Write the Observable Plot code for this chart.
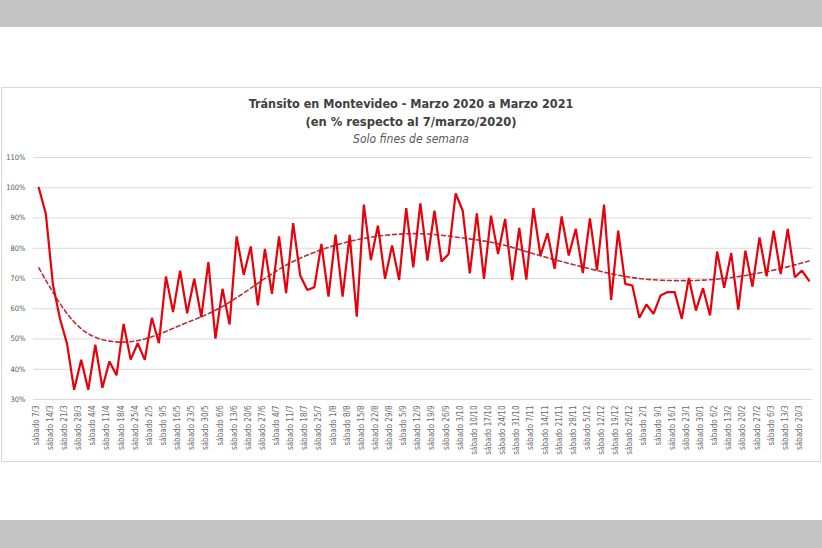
<!DOCTYPE html>
<html><head><meta charset="utf-8">
<script src="https://cdn.jsdelivr.net/npm/d3@7"></script>
<script src="https://cdn.jsdelivr.net/npm/@observablehq/plot@0.6"></script>
<style>
body{margin:0;background:#fff;font-family:"Liberation Sans Narrow","DejaVu Sans Condensed",Arial,sans-serif;}
#page{position:relative;width:822px;height:548px;overflow:hidden;background:#fff}
.band{position:absolute;left:0;width:822px;background:#c4c4c4}
#frame{position:absolute;left:1px;top:87px;width:818px;height:373px;border:1px solid #d9d9d9;}
.t{position:absolute;left:0;width:822px;text-align:center;color:#404040;white-space:nowrap}
#chart{position:absolute;left:0;top:150px}
</style></head><body>
<div id="page">
 <div class="band" style="top:0;height:27px"></div>
 <div class="band" style="top:520px;height:28px"></div>
 <div id="frame"></div>
 <div class="t" style="top:96px;font-weight:bold;font-size:12.5px">Tránsito en Montevideo - Marzo 2020 a Marzo 2021</div>
 <div class="t" style="top:114px;font-weight:bold;font-size:12.8px">(en % respecto al 7/marzo/2020)</div>
 <div class="t" style="top:132px;font-style:italic;font-size:12px;color:#595959">Solo fines de semana</div>
 <div id="chart"></div>
</div>
<script>
const labels = ["sábado 7/3","sábado 14/3","sábado 21/3","sábado 28/3","sábado 4/4","sábado 11/4","sábado 18/4","sábado 25/4","sábado 2/5","sábado 9/5","sábado 16/5","sábado 23/5","sábado 30/5","sábado 6/6","sábado 13/6","sábado 20/6","sábado 27/6","sábado 4/7","sábado 11/7","sábado 18/7","sábado 25/7","sábado 1/8","sábado 8/8","sábado 15/8","sábado 22/8","sábado 29/8","sábado 5/9","sábado 12/9","sábado 19/9","sábado 26/9","sábado 3/10","sábado 10/10","sábado 17/10","sábado 24/10","sábado 31/10","sábado 7/11","sábado 14/11","sábado 21/11","sábado 28/11","sábado 5/12","sábado 12/12","sábado 19/12","sábado 26/12","sábado 2/1","sábado 9/1","sábado 16/1","sábado 23/1","sábado 30/1","sábado 6/2","sábado 13/2","sábado 20/2","sábado 27/2","sábado 6/3","sábado 13/3","sábado 20/3"];
const values = [
 100, 91.3, 68, 56.7, 48.4, 33.2, 43.1, 33.2, 48.1, 33.9, 42.6, 38.0, 55.0, 43.2, 48.6, 43.1, 57.0, 48.6, 70.7, 58.9, 72.6, 58.5,
 69.9, 57.2, 75.4, 50.1, 66.6, 54.8, 83.9, 71.2, 80.6, 61.1, 79.8, 64.9, 83.9, 65.2, 88.3, 71.0, 66.2, 67.1, 81.4, 64.0, 84.5, 64.0,
 84.4, 57.4, 94.4, 76.1, 87.5, 69.9, 80.9, 69.5, 93.3, 73.7, 94.8, 75.9, 92.4, 75.6, 78.1, 98.1, 92.4, 71.7, 91.5, 69.9, 90.8, 78.1,
 89.7, 69.5, 86.7, 69.6, 93.3, 77.6, 85.0, 73.2, 90.5, 77.6, 86.4, 71.8, 89.9, 72.8, 94.4, 62.9, 85.8, 68.2, 67.7, 57.0, 61.4, 58.3,
 64.4, 65.5, 65.5, 56.7, 70.2, 59.4, 66.8, 57.8, 78.9, 66.9, 78.4, 59.7, 79.2, 67.3, 83.6, 70.7, 85.8, 71.5, 86.4, 70.4, 72.6, 69.3
];
const trendIdx = [0,5,10,15,20,25,30,35,40,45,50,55,60,65,70,75,80,85,90,95,100,105,109];
const trendVals = [73.5,55.6,49.3,50.0,54.5,59.5,66.8,74.4,79.5,82.8,84.5,84.7,83.4,81.5,78.2,75.0,72.1,70.0,69.3,69.6,71.0,73.3,75.8];
const yTicks = [30,40,50,60,70,80,90,100,110];

const series = values.map((v,i)=>({i, v}));
const trend = trendIdx.map((i,k)=>({i, v: trendVals[k]}));
const ticks = labels.map((l,k)=>({i: 2*k, l}));
const font = '"Liberation Sans Narrow","DejaVu Sans Condensed",Arial,sans-serif';

const chart = Plot.plot({
  width: 822, height: 312,
  marginLeft: 33, marginRight: 10, marginTop: 7, marginBottom: 63,
  x: {type: "linear", domain: [-0.75, 109.5], axis: null},
  y: {domain: [30, 110], axis: null},
  style: {fontFamily: font, background: "transparent"},
  marks: [
    Plot.ruleY(yTicks, {stroke: "#d9d9d9", strokeWidth: 1}),
    Plot.text(yTicks, {y: d=>d, text: d=>d+"%", frameAnchor: "left", textAnchor: "end", dx: -8, fontSize: 7.5, fill: "#595959"}),
    Plot.text(ticks, {x: "i", text: "l", frameAnchor: "bottom", rotate: -90, textAnchor: "end", dy: 6, fontSize: 8, fill: "#6a6a6a"}),
    Plot.line(trend, {x: "i", y: "v", curve: "natural", stroke: "#b5303a", strokeWidth: 1.6, strokeDasharray: "4,3"}),
    Plot.line(series, {x: "i", y: "v", stroke: "#e8000b", strokeWidth: 2.2, strokeLinejoin: "miter"})
  ]
});
document.getElementById("chart").appendChild(chart);
</script>
</body></html>
